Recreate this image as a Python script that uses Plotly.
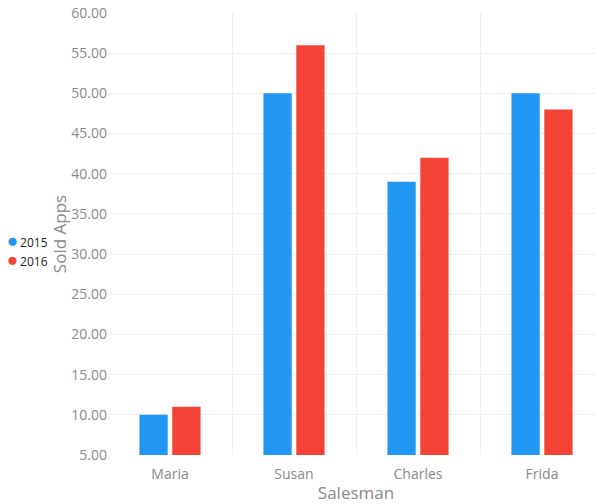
import plotly.graph_objects as go

salesmen = ["Maria", "Susan", "Charles", "Frida"]
sold_2015 = [10, 50, 39, 50]
sold_2016 = [11, 56, 42, 48]
years = ["2015", "2016"]

BLUE = "#2196F3"
RED = "#F44336"
GREY = "#8a8a8a"

fig = go.Figure()
for name, vals, col in zip(years, (sold_2015, sold_2016), (BLUE, RED)):
    fig.add_trace(go.Bar(
        x=salesmen, y=vals, name=name, marker_color=col,
        marker_line_width=0, showlegend=False,
    ))
    # legend entry: round swatch drawn as a coloured dot in the label
    fig.add_trace(go.Scatter(
        x=[None], y=[None], mode="markers",
        name=f"<span style='color:{col};font-size:19px'>●</span>\u2009{name}",
        marker=dict(color=col, size=1, opacity=0),
    ))

# the page body adds 8px on top/left, so the figure is sized 8px smaller
fig.update_layout(
    width=596, height=496,
    margin=dict(l=100, r=0, t=5, b=49, autoexpand=False),
    paper_bgcolor="white", plot_bgcolor="white",
    font=dict(family="Open Sans, sans-serif", size=14, color=GREY),
    barmode="group", bargap=0.47, bargroupgap=0.14,
    legend=dict(
        x=-0.285, y=0.46, xanchor="left", yanchor="middle",
        font=dict(size=12, color="#222"), tracegroupgap=0,
    ),
    xaxis=dict(
        title=dict(text="Salesman", standoff=2),
        tickson="boundaries", showgrid=True, gridcolor="#eeeeee",
        ticks="", showline=False, zeroline=False, ticklabelstandoff=9,
    ),
    yaxis=dict(
        title=dict(text="Sold Apps", standoff=0),
        range=[5, 60], dtick=5, tick0=5, tickformat=".2f",
        ticklabeloverflow="allow",
        showgrid=True, gridcolor="#eeeeee", zeroline=False, showline=False,
    ),
)

fig.write_html("out.html")
